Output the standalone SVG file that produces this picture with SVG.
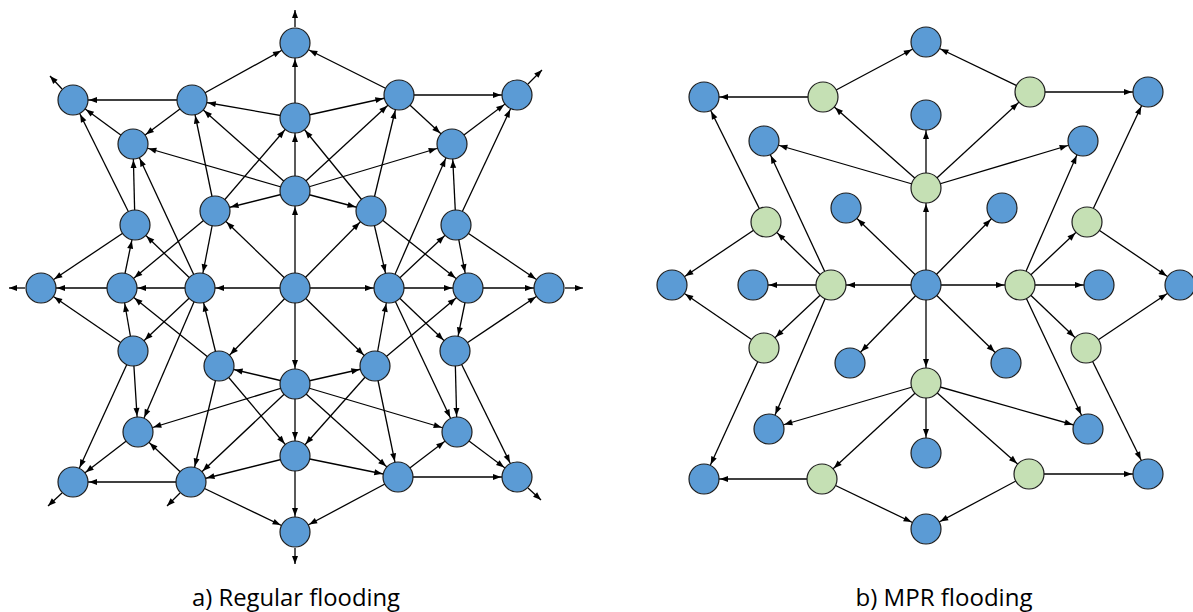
<svg xmlns="http://www.w3.org/2000/svg" width="1193" height="612" viewBox="0 0 1193 612">
  <style>
    .edge { stroke: #000; stroke-width: 1.3; fill: none; marker-end: url(#arr); }
    .out { stroke: #000; stroke-width: 1.3; fill: none; marker-end: url(#tip); }
    .node circle { stroke: #1e1e1e; stroke-width: 1.2; }
    .blue circle { fill: #5B9BD5; }
    .green circle { fill: #C5E0B4; }
    .caption { font-family: "Open Sans", "Liberation Sans", sans-serif; font-size: 23px; fill: #000; text-anchor: middle; }
  </style>
  <defs>
    <!-- arrowhead whose tip stops on the rim of a node of radius ~16 -->
    <marker id="arr" viewBox="0 0 8 6" refX="24" refY="3" markerWidth="8" markerHeight="6" markerUnits="userSpaceOnUse" orient="auto" overflow="visible">
      <path d="M0,0 L8,3 L0,6 z" fill="#000"/>
    </marker>
    <!-- arrowhead with the tip at the end of the line -->
    <marker id="tip" viewBox="0 0 8 6" refX="8" refY="3" markerWidth="8" markerHeight="6" markerUnits="userSpaceOnUse" orient="auto" overflow="visible">
      <path d="M0,0 L8,3 L0,6 z" fill="#000"/>
    </marker>
  </defs>
  <rect width="1193" height="612" fill="#fff"/>

  <!-- a) Regular flooding -->
  <g id="regular">
    <g id="regular-connectors">
      <!-- upper left -->
      <line class="edge" x1="192" y1="100" x2="295" y2="43"/>
      <line class="edge" x1="295" y1="118" x2="295" y2="43"/>
      <line class="edge" x1="192" y1="100" x2="73" y2="100"/>
      <line class="edge" x1="295" y1="118" x2="192" y2="100"/>
      <line class="edge" x1="192" y1="100" x2="133" y2="144"/>
      <line class="edge" x1="133" y1="144" x2="73" y2="100"/>
      <line class="edge" x1="295" y1="191" x2="133" y2="144"/>
      <line class="edge" x1="135" y1="225" x2="133" y2="144"/>
      <line class="edge" x1="135" y1="225" x2="73" y2="100"/>
      <line class="edge" x1="215" y1="211" x2="192" y2="100"/>
      <line class="edge" x1="295" y1="191" x2="192" y2="100"/>
      <line class="edge" x1="215" y1="211" x2="295" y2="118"/>
      <line class="edge" x1="295" y1="191" x2="215" y2="211"/>
      <line class="edge" x1="295" y1="191" x2="295" y2="118"/>
      <line class="edge" x1="295" y1="288" x2="295" y2="191"/>
      <line class="edge" x1="200" y1="288" x2="133" y2="144"/>
      <line class="edge" x1="215" y1="211" x2="122" y2="288"/>
      <line class="edge" x1="215" y1="211" x2="200" y2="288"/>
      <line class="edge" x1="295" y1="288" x2="215" y2="211"/>
      <line class="edge" x1="200" y1="288" x2="135" y2="225"/>
      <line class="edge" x1="122" y1="288" x2="135" y2="225"/>
      <line class="edge" x1="135" y1="225" x2="41" y2="288"/>
      <line class="edge" x1="122" y1="288" x2="41" y2="288"/>
      <line class="edge" x1="200" y1="288" x2="122" y2="288"/>
      <line class="edge" x1="295" y1="288" x2="200" y2="288"/>
      <!-- upper right -->
      <line class="edge" x1="399" y1="95" x2="295" y2="43"/>
      <line class="edge" x1="295" y1="118" x2="399" y2="95"/>
      <line class="edge" x1="399" y1="95" x2="517" y2="95"/>
      <line class="edge" x1="399" y1="95" x2="452" y2="144"/>
      <line class="edge" x1="452" y1="144" x2="517" y2="95"/>
      <line class="edge" x1="295" y1="191" x2="399" y2="95"/>
      <line class="edge" x1="295" y1="191" x2="452" y2="144"/>
      <line class="edge" x1="371" y1="211" x2="295" y2="118"/>
      <line class="edge" x1="295" y1="191" x2="371" y2="211"/>
      <line class="edge" x1="371" y1="211" x2="399" y2="95"/>
      <line class="edge" x1="389" y1="288" x2="452" y2="144"/>
      <line class="edge" x1="456" y1="225" x2="452" y2="144"/>
      <line class="edge" x1="456" y1="225" x2="517" y2="95"/>
      <line class="edge" x1="295" y1="288" x2="371" y2="211"/>
      <line class="edge" x1="371" y1="211" x2="389" y2="288"/>
      <line class="edge" x1="371" y1="211" x2="468" y2="288"/>
      <line class="edge" x1="389" y1="288" x2="456" y2="225"/>
      <line class="edge" x1="456" y1="225" x2="468" y2="288"/>
      <line class="edge" x1="456" y1="225" x2="549" y2="288"/>
      <line class="edge" x1="468" y1="288" x2="549" y2="288"/>
      <line class="edge" x1="389" y1="288" x2="468" y2="288"/>
      <line class="edge" x1="295" y1="288" x2="389" y2="288"/>
      <!-- lower left -->
      <line class="edge" x1="133" y1="351" x2="41" y2="288"/>
      <line class="edge" x1="133" y1="351" x2="122" y2="288"/>
      <line class="edge" x1="200" y1="288" x2="133" y2="351"/>
      <line class="edge" x1="219" y1="366" x2="122" y2="288"/>
      <line class="edge" x1="219" y1="366" x2="200" y2="288"/>
      <line class="edge" x1="295" y1="288" x2="219" y2="366"/>
      <line class="edge" x1="295" y1="384" x2="219" y2="366"/>
      <line class="edge" x1="295" y1="288" x2="295" y2="384"/>
      <line class="edge" x1="200" y1="288" x2="138" y2="432"/>
      <line class="edge" x1="133" y1="351" x2="138" y2="432"/>
      <line class="edge" x1="133" y1="351" x2="73" y2="482"/>
      <line class="edge" x1="295" y1="384" x2="138" y2="432"/>
      <line class="edge" x1="138" y1="432" x2="73" y2="482"/>
      <line class="edge" x1="191" y1="482" x2="138" y2="432"/>
      <line class="edge" x1="191" y1="482" x2="73" y2="482"/>
      <line class="edge" x1="219" y1="366" x2="191" y2="482"/>
      <line class="edge" x1="295" y1="384" x2="191" y2="482"/>
      <line class="edge" x1="295" y1="456" x2="191" y2="482"/>
      <line class="edge" x1="191" y1="482" x2="295" y2="532"/>
      <line class="edge" x1="219" y1="366" x2="295" y2="456"/>
      <line class="edge" x1="295" y1="384" x2="295" y2="456"/>
      <line class="edge" x1="295" y1="456" x2="295" y2="532"/>
      <!-- lower right -->
      <line class="edge" x1="295" y1="288" x2="375" y2="366"/>
      <line class="edge" x1="375" y1="366" x2="389" y2="288"/>
      <line class="edge" x1="375" y1="366" x2="468" y2="288"/>
      <line class="edge" x1="375" y1="366" x2="295" y2="456"/>
      <line class="edge" x1="295" y1="384" x2="375" y2="366"/>
      <line class="edge" x1="389" y1="288" x2="457" y2="432"/>
      <line class="edge" x1="389" y1="288" x2="455" y2="351"/>
      <line class="edge" x1="468" y1="288" x2="455" y2="351"/>
      <line class="edge" x1="455" y1="351" x2="549" y2="288"/>
      <line class="edge" x1="455" y1="351" x2="457" y2="432"/>
      <line class="edge" x1="455" y1="351" x2="517" y2="477"/>
      <line class="edge" x1="295" y1="384" x2="457" y2="432"/>
      <line class="edge" x1="295" y1="384" x2="398" y2="477"/>
      <line class="edge" x1="375" y1="366" x2="398" y2="477"/>
      <line class="edge" x1="295" y1="456" x2="398" y2="477"/>
      <line class="edge" x1="398" y1="477" x2="457" y2="432"/>
      <line class="edge" x1="457" y1="432" x2="517" y2="477"/>
      <line class="edge" x1="398" y1="477" x2="517" y2="477"/>
      <line class="edge" x1="398" y1="477" x2="295" y2="532"/>
      <!-- leaving the network -->
      <line class="out" x1="295" y1="27" x2="295" y2="10"/>
      <line class="out" x1="62" y1="89" x2="50" y2="76"/>
      <line class="out" x1="528" y1="84" x2="542" y2="70"/>
      <line class="out" x1="25" y1="288" x2="9" y2="288"/>
      <line class="out" x1="565" y1="288" x2="583" y2="288"/>
      <line class="out" x1="62" y1="493" x2="48" y2="506"/>
      <line class="out" x1="180" y1="493" x2="167" y2="506"/>
      <line class="out" x1="528" y1="488" x2="541" y2="500"/>
      <line class="out" x1="295" y1="548" x2="295" y2="564"/>
    </g>
    <g id="regular-nodes">
      <g id="a-C" class="node blue"><circle cx="295" cy="288" r="15"/></g>
      <g id="a-U1" class="node blue"><circle cx="295" cy="191" r="15"/></g>
      <g id="a-U2" class="node blue"><circle cx="295" cy="118" r="15"/></g>
      <g id="a-U3" class="node blue"><circle cx="295" cy="43" r="15"/></g>
      <g id="a-D1" class="node blue"><circle cx="295" cy="384" r="15"/></g>
      <g id="a-D2" class="node blue"><circle cx="295" cy="456" r="15"/></g>
      <g id="a-D3" class="node blue"><circle cx="295" cy="532" r="15"/></g>
      <g id="a-L1" class="node blue"><circle cx="200" cy="288" r="15"/></g>
      <g id="a-L2" class="node blue"><circle cx="122" cy="288" r="15"/></g>
      <g id="a-L3" class="node blue"><circle cx="41" cy="288" r="15"/></g>
      <g id="a-R1" class="node blue"><circle cx="389" cy="288" r="15"/></g>
      <g id="a-R2" class="node blue"><circle cx="468" cy="288" r="15"/></g>
      <g id="a-R3" class="node blue"><circle cx="549" cy="288" r="15"/></g>
      <g id="a-ul" class="node blue"><circle cx="215" cy="211" r="15"/></g>
      <g id="a-ur" class="node blue"><circle cx="371" cy="211" r="15"/></g>
      <g id="a-ll" class="node blue"><circle cx="219" cy="366" r="15"/></g>
      <g id="a-lr" class="node blue"><circle cx="375" cy="366" r="15"/></g>
      <g id="a-e" class="node blue"><circle cx="192" cy="100" r="15"/></g>
      <g id="a-f" class="node blue"><circle cx="399" cy="95" r="15"/></g>
      <g id="a-g" class="node blue"><circle cx="73" cy="100" r="15"/></g>
      <g id="a-h" class="node blue"><circle cx="517" cy="95" r="15"/></g>
      <g id="a-i" class="node blue"><circle cx="133" cy="144" r="15"/></g>
      <g id="a-j" class="node blue"><circle cx="452" cy="144" r="15"/></g>
      <g id="a-k" class="node blue"><circle cx="135" cy="225" r="15"/></g>
      <g id="a-l" class="node blue"><circle cx="456" cy="225" r="15"/></g>
      <g id="a-m" class="node blue"><circle cx="133" cy="351" r="15"/></g>
      <g id="a-n" class="node blue"><circle cx="455" cy="351" r="15"/></g>
      <g id="a-o" class="node blue"><circle cx="138" cy="432" r="15"/></g>
      <g id="a-p" class="node blue"><circle cx="457" cy="432" r="15"/></g>
      <g id="a-q" class="node blue"><circle cx="191" cy="482" r="15"/></g>
      <g id="a-r" class="node blue"><circle cx="398" cy="477" r="15"/></g>
      <g id="a-s" class="node blue"><circle cx="73" cy="482" r="15"/></g>
      <g id="a-t" class="node blue"><circle cx="517" cy="477" r="15"/></g>
    </g>
    <text class="caption" x="296" y="606" textLength="208" lengthAdjust="spacingAndGlyphs">a) Regular flooding</text>
  </g>

  <!-- b) MPR flooding: same layout, only relays forward -->
  <g id="mpr">
    <g transform="translate(631,-3)">
      <g id="mpr-connectors">
        <line class="edge" x1="192" y1="100" x2="73" y2="100"/>
        <line class="edge" x1="192" y1="100" x2="295" y2="45"/>
        <line class="edge" x1="295" y1="191" x2="192" y2="100"/>
        <line class="edge" x1="295" y1="191" x2="133" y2="144"/>
        <line class="edge" x1="135" y1="225" x2="73" y2="100"/>
        <line class="edge" x1="200" y1="288" x2="133" y2="144"/>
        <line class="edge" x1="135" y1="225" x2="41" y2="288"/>
        <line class="edge" x1="200" y1="288" x2="135" y2="225"/>
        <line class="edge" x1="200" y1="288" x2="122" y2="288"/>
        <line class="edge" x1="295" y1="288" x2="200" y2="288"/>
        <line class="edge" x1="295" y1="288" x2="215" y2="211"/>
        <line class="edge" x1="399" y1="95" x2="295" y2="45"/>
        <line class="edge" x1="399" y1="95" x2="517" y2="95"/>
        <line class="edge" x1="295" y1="191" x2="399" y2="95"/>
        <line class="edge" x1="295" y1="191" x2="452" y2="144"/>
        <line class="edge" x1="295" y1="191" x2="295" y2="118"/>
        <line class="edge" x1="295" y1="288" x2="295" y2="191"/>
        <line class="edge" x1="295" y1="288" x2="371" y2="211"/>
        <line class="edge" x1="389" y1="288" x2="452" y2="144"/>
        <line class="edge" x1="389" y1="288" x2="456" y2="225"/>
        <line class="edge" x1="456" y1="225" x2="517" y2="95"/>
        <line class="edge" x1="456" y1="225" x2="549" y2="288"/>
        <line class="edge" x1="389" y1="288" x2="468" y2="288"/>
        <line class="edge" x1="295" y1="288" x2="389" y2="288"/>
        <line class="edge" x1="133" y1="351" x2="41" y2="288"/>
        <line class="edge" x1="200" y1="288" x2="133" y2="351"/>
        <line class="edge" x1="200" y1="288" x2="138" y2="432"/>
        <line class="edge" x1="133" y1="351" x2="73" y2="482"/>
        <line class="edge" x1="295" y1="288" x2="219" y2="366"/>
        <line class="edge" x1="295" y1="386" x2="138" y2="432"/>
        <line class="edge" x1="295" y1="386" x2="191" y2="482"/>
        <line class="edge" x1="191" y1="482" x2="73" y2="482"/>
        <line class="edge" x1="191" y1="482" x2="295" y2="532"/>
        <line class="edge" x1="295" y1="288" x2="295" y2="386"/>
        <line class="edge" x1="295" y1="288" x2="375" y2="366"/>
        <line class="edge" x1="389" y1="288" x2="455" y2="351"/>
        <line class="edge" x1="389" y1="288" x2="457" y2="432"/>
        <line class="edge" x1="455" y1="351" x2="549" y2="288"/>
        <line class="edge" x1="455" y1="351" x2="517" y2="477"/>
        <line class="edge" x1="295" y1="386" x2="457" y2="432"/>
        <line class="edge" x1="295" y1="386" x2="295" y2="456"/>
        <line class="edge" x1="295" y1="386" x2="398" y2="477"/>
        <line class="edge" x1="398" y1="477" x2="517" y2="477"/>
        <line class="edge" x1="398" y1="477" x2="295" y2="532"/>
      </g>
      <g id="mpr-nodes">
        <g id="b-C" class="node blue"><circle cx="295" cy="288" r="15"/></g>
        <g id="b-U1" class="node green"><circle cx="295" cy="191" r="15"/></g>
        <g id="b-U2" class="node blue"><circle cx="295" cy="118" r="15"/></g>
        <g id="b-U3" class="node blue"><circle cx="295" cy="45" r="15"/></g>
        <g id="b-D1" class="node green"><circle cx="295" cy="386" r="15"/></g>
        <g id="b-D2" class="node blue"><circle cx="295" cy="456" r="15"/></g>
        <g id="b-D3" class="node blue"><circle cx="295" cy="532" r="15"/></g>
        <g id="b-L1" class="node green"><circle cx="200" cy="288" r="15"/></g>
        <g id="b-L2" class="node blue"><circle cx="122" cy="288" r="15"/></g>
        <g id="b-L3" class="node blue"><circle cx="41" cy="288" r="15"/></g>
        <g id="b-R1" class="node green"><circle cx="389" cy="288" r="15"/></g>
        <g id="b-R2" class="node blue"><circle cx="468" cy="288" r="15"/></g>
        <g id="b-R3" class="node blue"><circle cx="549" cy="288" r="15"/></g>
        <g id="b-ul" class="node blue"><circle cx="215" cy="211" r="15"/></g>
        <g id="b-ur" class="node blue"><circle cx="371" cy="211" r="15"/></g>
        <g id="b-ll" class="node blue"><circle cx="219" cy="366" r="15"/></g>
        <g id="b-lr" class="node blue"><circle cx="375" cy="366" r="15"/></g>
        <g id="b-e" class="node green"><circle cx="192" cy="100" r="15"/></g>
        <g id="b-f" class="node green"><circle cx="399" cy="95" r="15"/></g>
        <g id="b-g" class="node blue"><circle cx="73" cy="100" r="15"/></g>
        <g id="b-h" class="node blue"><circle cx="517" cy="95" r="15"/></g>
        <g id="b-i" class="node blue"><circle cx="133" cy="144" r="15"/></g>
        <g id="b-j" class="node blue"><circle cx="452" cy="144" r="15"/></g>
        <g id="b-k" class="node green"><circle cx="135" cy="225" r="15"/></g>
        <g id="b-l" class="node green"><circle cx="456" cy="225" r="15"/></g>
        <g id="b-m" class="node green"><circle cx="133" cy="351" r="15"/></g>
        <g id="b-n" class="node green"><circle cx="455" cy="351" r="15"/></g>
        <g id="b-o" class="node blue"><circle cx="138" cy="432" r="15"/></g>
        <g id="b-p" class="node blue"><circle cx="457" cy="432" r="15"/></g>
        <g id="b-q" class="node green"><circle cx="191" cy="482" r="15"/></g>
        <g id="b-r" class="node green"><circle cx="398" cy="477" r="15"/></g>
        <g id="b-s" class="node blue"><circle cx="73" cy="482" r="15"/></g>
        <g id="b-t" class="node blue"><circle cx="517" cy="477" r="15"/></g>
      </g>
    </g>
    <text class="caption" x="944" y="606" textLength="177" lengthAdjust="spacingAndGlyphs">b) MPR flooding</text>
  </g>
</svg>
